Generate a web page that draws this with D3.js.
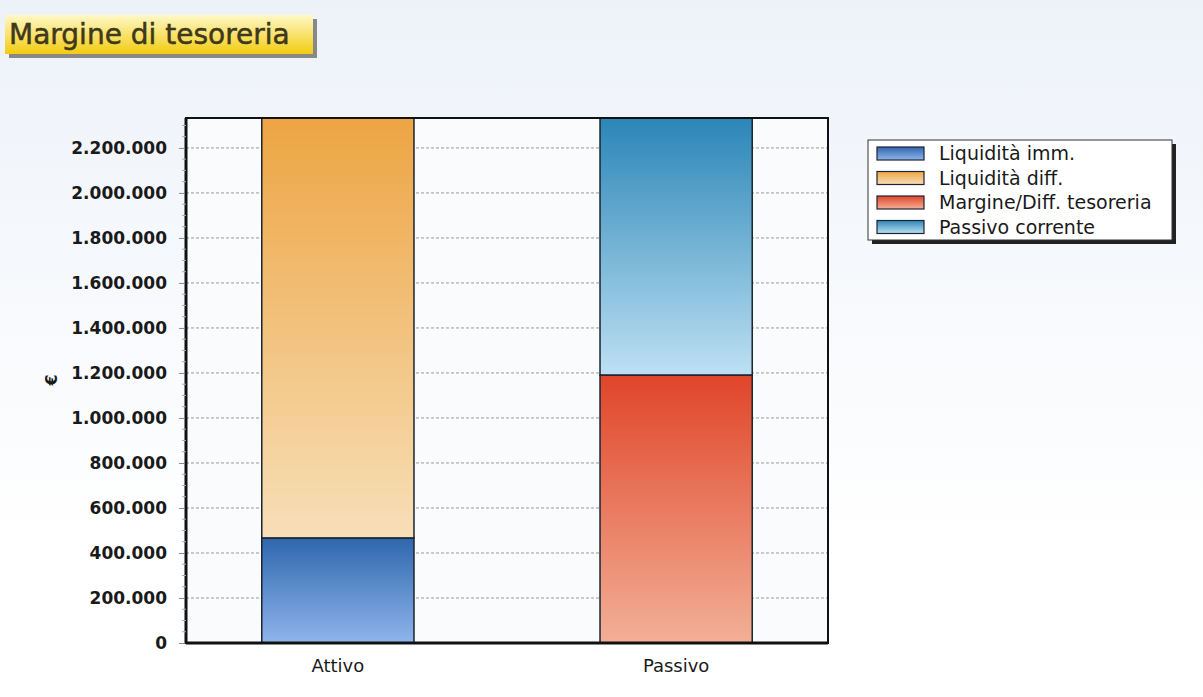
<!DOCTYPE html>
<html>
<head>
<meta charset="utf-8">
<script src="https://cdn.jsdelivr.net/npm/d3@7"></script>
<style>
  body { margin: 0; background: #fff; }
  svg { display: block; }
  text { font-family: "DejaVu Sans", Verdana, sans-serif; }
</style>
</head>
<body>
<svg width="1203" height="697"></svg>
<script>
// chart data
categories = ['Attivo', 'Passivo'];
seriesNames = ['Liquidità imm.', 'Liquidità diff.', 'Margine/Diff. tesoreria', 'Passivo corrente'];
liquiditaImm = [467000, 0];
liquiditaDiff = [1866000, 0];
margineDiff = [0, 1191000];
passivoCorrente = [0, 1142000];
yTicks = [0, 200000, 400000, 600000, 800000, 1000000, 1200000, 1400000, 1600000, 1800000, 2000000, 2200000];
yMax = 2333000;

// gradient stops per series: top colour, bottom colour
seriesColors = [
    ['#2f67ad', '#8fb5ec'],
    ['#eda543', '#f7dfb8'],
    ['#e0452a', '#f2b096'],
    ['#2b86b7', '#bde0f3']
];

svg = d3.select('svg');
defs = svg.append('defs');

// page background: pale blue fading to white
bg = defs.append('linearGradient').attr('id', 'bg')
    .attr('x1', 0).attr('y1', 0).attr('x2', 0).attr('y2', 1);
bg.append('stop').attr('offset', '0%').attr('stop-color', '#edf2f9');
bg.append('stop').attr('offset', '78%').attr('stop-color', '#ffffff');
svg.append('rect').attr('width', 1203).attr('height', 697).attr('fill', 'url(#bg)');

seriesColors.forEach(function(c, i) {
    var g = defs.append('linearGradient').attr('id', 'grad' + i)
        .attr('x1', 0).attr('y1', 0).attr('x2', 0).attr('y2', 1);
    g.append('stop').attr('offset', '0%').attr('stop-color', c[0]);
    g.append('stop').attr('offset', '100%').attr('stop-color', c[1]);
});

titleGrad = defs.append('linearGradient').attr('id', 'titleGrad')
    .attr('x1', 0).attr('y1', 0).attr('x2', 0).attr('y2', 1);
titleGrad.append('stop').attr('offset', '0%').attr('stop-color', '#fff8c8');
titleGrad.append('stop').attr('offset', '100%').attr('stop-color', '#f2cc10');

// title box
svg.append('rect').attr('x', 9).attr('y', 19).attr('width', 308).attr('height', 39).attr('fill', '#888');
svg.append('rect').attr('x', 5).attr('y', 15).attr('width', 308).attr('height', 39)
    .attr('fill', 'url(#titleGrad)');
svg.append('text').attr('x', 9).attr('y', 44)
    .attr('font-size', 28).attr('fill', '#3e381c')
    .attr('stroke', '#3e381c').attr('stroke-width', 0.5)
    .text('Margine di tesoreria');

// plot area
margin = {left: 186, right: 828, top: 118, bottom: 643};

x = d3.scaleBand().domain(categories)
    .range([margin.left, margin.right])
    .paddingInner(0.55).paddingOuter(0.224);

y = d3.scaleLinear().domain([0, yMax]).range([margin.bottom, margin.top]);

svg.append('rect')
    .attr('x', margin.left).attr('y', margin.top)
    .attr('width', margin.right - margin.left).attr('height', margin.bottom - margin.top)
    .attr('fill', '#f9fbfd');

// dashed gridlines
svg.append('g').selectAll('line')
    .data(yTicks.filter(function(d) { return d > 0; }))
    .enter().append('line')
    .attr('x1', margin.left).attr('x2', margin.right)
    .attr('y1', function(d) { return y(d); }).attr('y2', function(d) { return y(d); })
    .attr('stroke', '#9a9a9a').attr('stroke-width', 1).attr('stroke-dasharray', '3,2');

// stacked bars
stackData = categories.map(function(c, i) {
    return {cat: c, s0: liquiditaImm[i], s1: liquiditaDiff[i], s2: margineDiff[i], s3: passivoCorrente[i]};
});
stack = d3.stack().keys(['s0', 's1', 's2', 's3']);
layers = stack(stackData);

svg.append('g').selectAll('g')
    .data(layers)
    .enter().append('g')
    .attr('fill', function(d, i) { return 'url(#grad' + i + ')'; })
    .selectAll('rect')
    .data(function(d) { return d.filter(function(p) { return p[1] > p[0]; }); })
    .enter().append('rect')
    .attr('x', function(d) { return x(d.data.cat); })
    .attr('width', x.bandwidth())
    .attr('y', function(d) { return y(d[1]); })
    .attr('height', function(d) { return y(d[0]) - y(d[1]); })
    .attr('stroke', '#1b2430').attr('stroke-width', 1.5);

// frame
svg.append('rect')
    .attr('x', margin.left).attr('y', margin.top)
    .attr('width', margin.right - margin.left).attr('height', margin.bottom - margin.top)
    .attr('fill', 'none').attr('stroke', '#111').attr('stroke-width', 2);
svg.append('line').attr('x1', margin.left).attr('x2', margin.left)
    .attr('y1', margin.top).attr('y2', margin.bottom + 1)
    .attr('stroke', '#111').attr('stroke-width', 3);
svg.append('line').attr('x1', margin.left).attr('x2', margin.right)
    .attr('y1', margin.bottom).attr('y2', margin.bottom)
    .attr('stroke', '#111').attr('stroke-width', 3);

// y axis
yAxis = d3.axisLeft(y).tickValues(yTicks).tickSize(6).tickPadding(12)
    .tickFormat(function(d) { return d3.format(',')(d).replace(/,/g, '.'); });
ya = svg.append('g').attr('transform', 'translate(' + (margin.left - 1) + ',0)').call(yAxis);
ya.select('.domain').remove();
ya.selectAll('line').attr('stroke', '#888');
ya.selectAll('text').attr('font-size', 17).attr('font-weight', 'bold')
    .attr('fill', '#1a1a1a').attr('font-family', '"DejaVu Sans", Verdana, sans-serif');

// minor ticks
minor = d3.range(0, yMax, 50000).filter(function(d) { return d % 200000 !== 0; });
svg.append('g').selectAll('line').data(minor).enter().append('line')
    .attr('x1', margin.left - 4).attr('x2', margin.left)
    .attr('y1', function(d) { return y(d); }).attr('y2', function(d) { return y(d); })
    .attr('stroke', '#aaa');

svg.append('text')
    .attr('transform', 'translate(57,380) rotate(-90)')
    .attr('text-anchor', 'middle').attr('font-size', 16).attr('font-weight', 'bold')
    .attr('fill', '#1a1a1a').text('€');

// x axis
xAxis = d3.axisBottom(x).tickSize(0).tickPadding(16);
xa = svg.append('g').attr('transform', 'translate(0,' + margin.bottom + ')').call(xAxis);
xa.select('.domain').remove();
xa.selectAll('text').attr('font-size', 18).attr('fill', '#1a1a1a')
    .attr('font-family', '"DejaVu Sans", Verdana, sans-serif');

// legend
lx = 868; ly = 140;
svg.append('rect').attr('x', lx + 4).attr('y', ly + 4).attr('width', 304).attr('height', 100).attr('fill', '#222');
svg.append('rect').attr('x', lx).attr('y', ly).attr('width', 304).attr('height', 100)
    .attr('fill', '#fff').attr('stroke', '#333').attr('stroke-width', 1);
legend = svg.append('g').selectAll('g').data(seriesNames).enter().append('g')
    .attr('transform', function(d, i) { return 'translate(' + (lx + 9) + ',' + (ly + 13 + i * 24.5) + ')'; });
legend.append('rect').attr('x', 0).attr('y', -6).attr('width', 47).attr('height', 13)
    .attr('fill', function(d, i) { return 'url(#grad' + i + ')'; })
    .attr('stroke', '#223').attr('stroke-width', 1.2);
legend.append('text').attr('x', 62).attr('y', 7)
    .attr('font-size', 19).attr('fill', '#1a1a1a').text(function(d) { return d; });
</script>
</body>
</html>
